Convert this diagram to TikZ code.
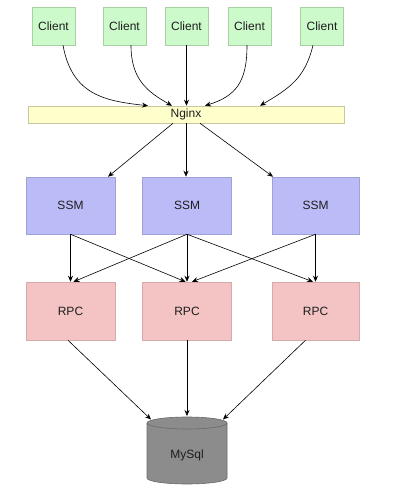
\documentclass[tikz,border=0pt]{standalone}
\usepackage{fontspec}
\setmainfont{Liberation Sans}
\usetikzlibrary{arrows.meta,calc}
\definecolor{cfill}{HTML}{CCFACA}
\definecolor{cdraw}{HTML}{A8D0A4}
\definecolor{nfill}{HTML}{FFFFCC}
\definecolor{ndraw}{HTML}{C8C8A0}
\definecolor{sfill}{HTML}{BBBBF8}
\definecolor{sdraw}{HTML}{A0A0D4}
\definecolor{rfill}{HTML}{F4C4C4}
\definecolor{rdraw}{HTML}{D4AAAA}
\definecolor{dbfill}{HTML}{8C8C8C}
\definecolor{dbdraw}{HTML}{6A6A6A}
\definecolor{txt}{HTML}{1E1E1E}
\tikzset{
  box/.style={rectangle, draw, line width=0.5pt, inner sep=0pt, font=\fontsize{12}{14}\selectfont, text=txt},
  clientbox/.style={box, fill=cfill, draw=cdraw, minimum width=43pt, minimum height=38pt},
  nginxbox/.style={box, fill=nfill, draw=ndraw, minimum width=316pt, minimum height=17pt},
  ssmbox/.style={box, fill=sfill, draw=sdraw, minimum width=89pt, minimum height=57pt},
  rpcbox/.style={box, fill=rfill, draw=rdraw, minimum width=89pt, minimum height=58pt},
  conn/.style={draw=black, line width=0.6pt, -{Stealth[length=6pt,width=5pt]}},
}
\begin{document}
\begin{tikzpicture}[x=1pt,y=-1pt]
\useasboundingbox[fill=white] (0,0) rectangle (400,489);
% clients
\node[clientbox] (c1) at (53.5,26) {Client};
\node[clientbox] (c2) at (124.5,26) {Client};
\node[clientbox] (c3) at (186.5,26) {Client};
\node[clientbox] (c4) at (249.5,26) {Client};
\node[clientbox] (c5) at (322,26) {Client};
% nginx
\node[nginxbox] (ng) at (186,114.5) {Nginx};
% ssm
\node[ssmbox] (s1) at (70.5,205.5) {SSM};
\node[ssmbox] (s2) at (187,205.5) {SSM};
\node[ssmbox, minimum width=87pt] (s3) at (315.5,205.5) {SSM};
% rpc
\node[rpcbox] (r1) at (70.5,311) {RPC};
\node[rpcbox] (r2) at (187,311) {RPC};
\node[rpcbox, minimum width=87pt] (r3) at (315.5,311) {RPC};
% database
\draw[fill=dbfill, draw=dbdraw, line width=0.6pt]
  (147,423) -- (147,478) arc[start angle=180, end angle=360, x radius=40pt, y radius=6pt]
  -- (227,423) arc[start angle=0, end angle=180, x radius=40pt, y radius=6pt] -- cycle;
\draw[draw=dbdraw, line width=0.6pt] (147,423) arc[start angle=180, end angle=360, x radius=40pt, y radius=6pt];
\node[font=\fontsize{12}{14}\selectfont, text=txt, inner sep=0pt] (db) at (187,455) {MySql};
\coordinate (dbl) at (151,419.5);
\coordinate (dbt) at (187,416);
\coordinate (dbr) at (223,419.5);
% client -> nginx
\draw[conn] ($(c1.south)+(9.5,0)$) .. controls (72,95) and (105,101) .. ($(ng.north)+(-38,0)$);
\draw[conn] ($(c2.south)+(6.5,0)$) .. controls (131,80) and (148,92) .. ($(ng.north)+(-14,0)$);
\draw[conn] (c3.south) -- (c3.south |- ng.north);
\draw[conn] ($(c4.south)+(-2.5,0)$) .. controls (247,82) and (236,96) .. ($(ng.north)+(19,0)$);
\draw[conn] ($(c5.south)+(-9,0)$) .. controls (305,78) and (290,88) .. ($(ng.north)+(74,0)$);
% nginx -> ssm
\draw[conn] ($(ng.south)+(-13,0)$) -- ($(s1.north)+(37.5,0)$);
\draw[conn] ($(ng.south)+(0,0)$) -- ($(s2.north)+(-1,0)$);
\draw[conn] ($(ng.south)+(14,0)$) -- ($(s3.north)+(-42.5,0)$);
% ssm -> rpc
\draw[conn] (s1.south) -- (r1.north);
\draw[conn] (s1.south) -- ($(r2.north)+(-1.5,0)$);
\draw[conn] (s2.south) -- ($(r1.north)+(3,0)$);
\draw[conn] (s2.south) -- (r2.north);
\draw[conn] (s2.south) -- ($(r3.north)+(-2.5,0)$);
\draw[conn] (s3.south) -- ($(r2.north)+(5,0)$);
\draw[conn] (s3.south) -- (r3.north);
% rpc -> db
\draw[conn] ($(r1.south)+(-2.5,0)$) -- (dbl);
\draw[conn] (r2.south) -- (dbt);
\draw[conn] ($(r3.south)+(-10,0)$) -- (dbr);
\end{tikzpicture}
\end{document}
